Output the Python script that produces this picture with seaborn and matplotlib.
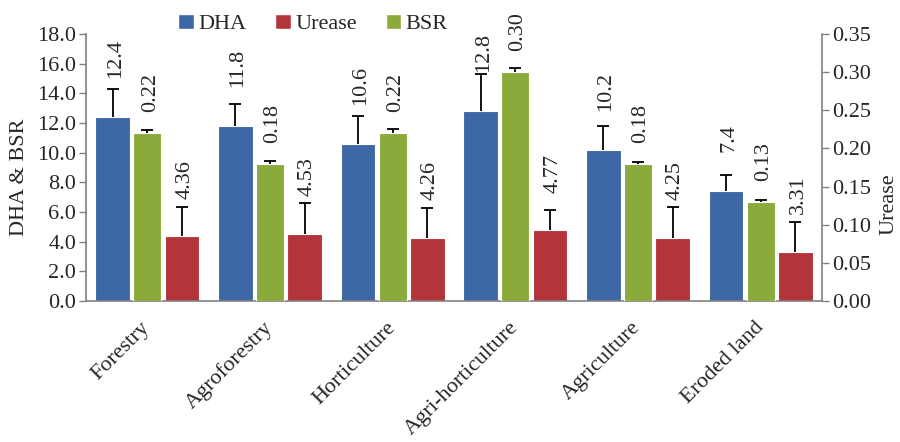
import numpy as np
import pandas as pd
import seaborn as sns
import matplotlib.pyplot as plt
from matplotlib.patches import Patch
from matplotlib.ticker import FormatStrFormatter, FixedLocator

# land uses
cats = ['Forestry', 'Agroforestry', 'Horticulture', 'Agri-horticulture', 'Agriculture', 'Eroded land']

# dehydrogenase activity (left axis) and its error
dha = [12.4, 11.8, 10.6, 12.8, 10.2, 7.4]
dha_err = [1.9, 1.5, 1.9, 2.5, 1.6, 1.1]
# urease (right axis) and its error
urease = [0.22, 0.18, 0.22, 0.30, 0.18, 0.13]
urease_err = [0.004, 0.004, 0.006, 0.006, 0.002, 0.003]
# basal soil respiration (left axis) and its error
bsr = [4.36, 4.53, 4.26, 4.77, 4.25, 3.31]
bsr_err = [2.0, 2.06, 2.03, 1.37, 2.07, 2.04]

blue = '#3E68A5'
green = '#8AAB3B'
red = '#B3353A'
spine_col = '#808080'

sns.set_style('white')
plt.rcParams['font.family'] = ['Liberation Serif', 'DejaVu Serif']
fs = 16

hue_order = ['DHA', 'Urease', 'BSR']
pal = {'DHA': blue, 'Urease': green, 'BSR': red}
errs = {'DHA': dha_err, 'Urease': urease_err, 'BSR': bsr_err}
vals = {'DHA': dha, 'Urease': urease, 'BSR': bsr}
zeros = [0] * len(cats)

# every axis gets all three series so the dodge slots line up;
# the series that belong to the other axis are zero there
left_df = pd.DataFrame({'cat': cats * 3, 'series': ['DHA'] * 6 + ['Urease'] * 6 + ['BSR'] * 6,
                        'value': dha + zeros + bsr})
right_df = pd.DataFrame({'cat': cats * 3, 'series': ['DHA'] * 6 + ['Urease'] * 6 + ['BSR'] * 6,
                         'value': zeros + urease + zeros})

fig, ax = plt.subplots(figsize=(9, 4.42), dpi=100)
fig.subplots_adjust(left=0.0956, right=0.9133, top=0.9231, bottom=0.319)
ax2 = ax.twinx()

bar_w = 0.85
sns.barplot(data=left_df, x='cat', y='value', hue='series', hue_order=hue_order,
            palette=pal, order=cats, width=bar_w, errorbar=None, legend=False,
            saturation=1, ax=ax, edgecolor='white', linewidth=0.8)
sns.barplot(data=right_df, x='cat', y='value', hue='series', hue_order=hue_order,
            palette=pal, order=cats, width=bar_w, errorbar=None, legend=False,
            saturation=1, ax=ax2, edgecolor='white', linewidth=0.8)

# drop the empty placeholder bars
for a in (ax, ax2):
    for p in list(a.patches):
        if p.get_height() == 0:
            p.remove()

# green bars are a bit narrower
for p in ax2.patches:
    cx = p.get_x() + p.get_width() / 2
    w = p.get_width() * 0.8
    p.set_x(cx - w / 2)
    p.set_width(w)


def decorate(axis, offset):
    for p in axis.patches:
        cx = p.get_x() + p.get_width() / 2
        i = int(round(cx))
        if axis is ax2:
            s = 'Urease'
        else:
            s = 'DHA' if cx < i else 'BSR'
        v = vals[s][i]
        e = errs[s][i]
        eb = axis.errorbar(cx, v, yerr=[[0], [e]], fmt='none', ecolor='black',
                           elinewidth=1.3, capsize=4, capthick=1.3, zorder=3)
        eb[1][0].set_visible(False)  # no cap at the bar top
        txt = f'{v:.2f}' if s != 'DHA' else f'{v:.1f}'
        axis.annotate(txt, (cx, v), xytext=(2, offset[s]), textcoords='offset points',
                      rotation=90, ha='center', va='bottom', fontsize=fs)


decorate(ax, {'DHA': 28, 'BSR': 27})
decorate(ax2, {'Urease': 15})

ax.set_ylim(0, 18)
ax2.set_ylim(0, 0.35)
ax.set_xlim(-0.5, len(cats) - 0.5)
ax.set_yticks(np.arange(0, 18.1, 2))
ax2.set_yticks(np.arange(0, 0.351, 0.05))
ax.yaxis.set_major_formatter(FormatStrFormatter('%.1f'))
ax2.yaxis.set_major_formatter(FormatStrFormatter('%.2f'))
ax.set_xlabel('')
ax.set_ylabel('')
ax2.set_ylabel('')
ax2.set_xlabel('')

ax.xaxis.set_minor_locator(FixedLocator(np.arange(-0.5, len(cats), 1)))
ax.tick_params(axis='x', which='major', length=0, pad=17, labelsize=fs)
ax.tick_params(axis='x', which='minor', length=6, color=spine_col, width=1, direction='out')
ax.tick_params(axis='y', length=5, color=spine_col, width=1, direction='out', labelsize=fs, pad=2)
ax2.tick_params(axis='y', length=5, color=spine_col, width=1, direction='out', labelsize=fs, pad=2)
for lab in ax.get_xticklabels():
    lab.set_rotation(45)
    lab.set_ha('right')
    lab.set_va('center')
    lab.set_rotation_mode('anchor')

for a in (ax, ax2):
    a.spines['top'].set_visible(False)
ax.spines['right'].set_visible(False)
ax2.spines['left'].set_visible(False)
ax2.spines['bottom'].set_visible(False)
for a, side in ((ax, 'left'), (ax, 'bottom'), (ax2, 'right')):
    a.spines[side].set_color(spine_col)
    a.spines[side].set_linewidth(1.2)

fig.text(20 / 900, 1 - 177 / 442, 'DHA & BSR', rotation=90, ha='center', va='center', fontsize=fs)
fig.text(889 / 900, 1 - 204 / 442, 'Urease', rotation=90, ha='center', va='center', fontsize=fs)

handles = [Patch(facecolor=blue, label='DHA'), Patch(facecolor=red, label='Urease'),
           Patch(facecolor=green, label='BSR')]
fig.legend(handles=handles, ncol=3, loc='center', bbox_to_anchor=(313 / 900, 1 - 24 / 442),
           frameon=False, fontsize=fs, handlelength=0.7, handleheight=0.7,
           handletextpad=0.2, columnspacing=1.3, borderpad=0)

fig.savefig('out.png', dpi=100)
